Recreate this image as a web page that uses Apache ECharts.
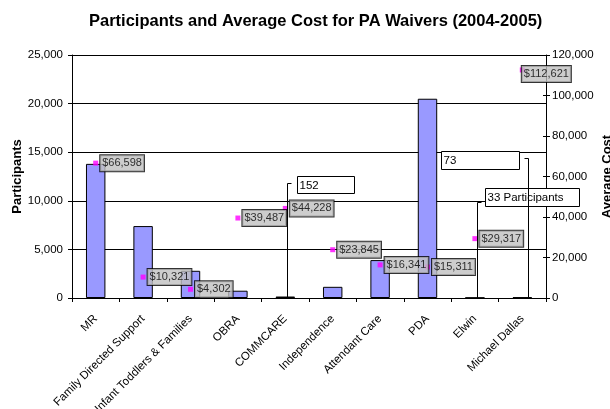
<!DOCTYPE html>
<html>
<head>
<meta charset="utf-8">
<script src="https://cdn.jsdelivr.net/npm/echarts@6/dist/echarts.min.js"></script>
<style>
  html, body { margin: 0; padding: 0; background: #fff; }
  #main { width: 610px; height: 409px; }
</style>
</head>
<body>
<div id="main"></div>
<script>
  const categories = ['MR', 'Family Directed Support', 'Infant Toddlers & Families', 'OBRA', 'COMMCARE',
    'Independence', 'Attendant Care', 'PDA', 'Elwin', 'Michael Dallas'];
  const participants = [13800, 7400, 2800, 750, 152, 1150, 3900, 20500, 33, 73];
  const avgCost = [66598, 10321, 4302, 39487, 44228, 23845, 16341, 15311, 29317, 112621];
  const participantTicks = [0, 5000, 10000, 15000, 20000, 25000];
  const costTicks = [0, 20000, 40000, 60000, 80000, 100000, 120000];
  // bars whose participant count is shown in a dragged-out callout
  const calloutIdx = [4, 8, 9];

  const font = 'Liberation Sans, Arial, sans-serif';
  const fmt = v => String(v).replace(/\B(?=(\d{3})+(?!\d))/g, ',');

  const chart = echarts.init(document.getElementById('main'));

  const costAxis = {
    type: 'value',
    position: 'right',
    min: costTicks[0],
    max: costTicks[costTicks.length - 1],
    interval: costTicks[1] - costTicks[0]
  };

  const option = {
    animation: false,
    backgroundColor: '#fff',
    title: {
      text: 'Participants and Average Cost for PA Waivers (2004-2005)',
      left: 84,
      top: 8,
      textStyle: { fontFamily: font, fontSize: 16.5, fontWeight: 'bold', color: '#000' }
    },
    grid: { left: 72, right: 64, top: 55, bottom: 111, outerBoundsMode: 'none' },
    xAxis: {
      type: 'category',
      data: categories,
      axisLine: { lineStyle: { color: '#000' } },
      axisTick: { show: true, length: 4, lineStyle: { color: '#000' } },
      axisLabel: { rotate: 45, interval: 0, margin: 19, fontFamily: font, fontSize: 11.5, color: '#000' }
    },
    yAxis: [
      {
        type: 'value',
        min: participantTicks[0],
        max: participantTicks[participantTicks.length - 1],
        interval: participantTicks[1] - participantTicks[0],
        name: 'Participants',
        nameLocation: 'middle',
        nameGap: 48,
        nameMoveOverlap: false,
        nameTextStyle: { fontFamily: font, fontSize: 13, fontWeight: 'bold', color: '#000' },
        axisLine: { show: true, lineStyle: { color: '#000' } },
        axisTick: { show: true, length: 4, lineStyle: { color: '#000' } },
        splitLine: { show: true, lineStyle: { color: '#000' } },
        axisLabel: { margin: 9, formatter: fmt, fontFamily: font, fontSize: 11.5, color: '#000' }
      },
      Object.assign({}, costAxis, {
        name: 'Average Cost',
        nameLocation: 'middle',
        nameGap: 55,
        nameMoveOverlap: false,
        nameTextStyle: { fontFamily: font, fontSize: 13, fontWeight: 'bold', color: '#000' },
        axisLine: { show: true, lineStyle: { color: '#000' } },
        axisTick: { show: true, length: 4, lineStyle: { color: '#000' } },
        splitLine: { show: false },
        axisLabel: { margin: 6, formatter: fmt, fontFamily: font, fontSize: 11.5, color: '#000' }
      }),
      // inner half of the right axis' cross ticks
      Object.assign({}, costAxis, {
        axisLine: { show: false },
        axisTick: { show: true, inside: true, length: 3, lineStyle: { color: '#000' } },
        axisLabel: { show: false },
        splitLine: { show: false }
      })
    ],
    series: [
      {
        name: 'Participants',
        type: 'bar',
        data: participants,
        barWidth: '41%',
        itemStyle: { color: '#9999ff', borderColor: '#000', borderWidth: 1 }
      },
      {
        name: 'Average Cost',
        type: 'scatter',
        yAxisIndex: 1,
        symbol: 'rect',
        symbolSize: 5,
        itemStyle: { color: '#ff00ff' },
        data: avgCost.map((v, i) => i === 9 ? { value: v, label: { offset: [-5, 4] } } : v),
        label: {
          show: true,
          position: 'right',
          distance: 2,
          formatter: p => '$' + fmt(p.value),
          backgroundColor: '#c0c0c0',
          borderColor: '#000',
          borderWidth: 1,
          padding: [3, 2, 2, 2],
          color: '#000',
          fontFamily: font,
          fontSize: 11
        }
      }
    ]
  };
  chart.setOption(option);

  // callout boxes with elbow leader lines, placed relative to the bar pixel
  const calloutStyle = [
    { dx: 1.5, rise: 114, side: 1, gap: 9, boxW: 57, boxH: 17, boxDy: -8 },
    { dx: 2.5, rise: 96, side: 1, gap: 7, boxW: 94, boxH: 18, boxDy: -15 },
    { dx: 5.5, rise: 139, side: -1, gap: 10, boxW: 78, boxH: 18, boxDy: -8 }
  ];
  const graphics = [];
  calloutIdx.forEach((idx, k) => {
    const s = calloutStyle[k];
    const p = chart.convertToPixel({ seriesIndex: 0 }, [idx, participants[idx]]);
    const x = Math.round(p[0] + s.dx) + 0.5;
    const y0 = Math.round(p[1]);
    const ey = Math.round(y0 - s.rise) + 0.5;
    graphics.push({
      type: 'polyline', z: 100,
      shape: { points: [[x, y0], [x, ey], [x + s.side * 4, ey]] },
      style: { stroke: '#000', lineWidth: 1, fill: null }
    });
    const bx = s.side > 0 ? Math.round(x + s.gap) + 0.5 : Math.round(x - s.gap - s.boxW) + 0.5;
    const by = Math.round(ey + s.boxDy) + 0.5;
    graphics.push({
      type: 'rect', z: 100,
      shape: { x: bx, y: by, width: s.boxW, height: s.boxH },
      style: { fill: '#fff', stroke: '#000', lineWidth: 1 }
    });
    graphics.push({
      type: 'text', z: 101,
      x: bx + 2, y: by + 3,
      style: {
        text: participants[idx] + ' Participants',
        font: '11.5px ' + font,
        fill: '#000',
        width: s.boxW - 10,
        height: 13,
        overflow: 'break',
        lineOverflow: 'truncate'
      }
    });
  });
  chart.setOption({ graphic: graphics });
</script>
</body>
</html>
